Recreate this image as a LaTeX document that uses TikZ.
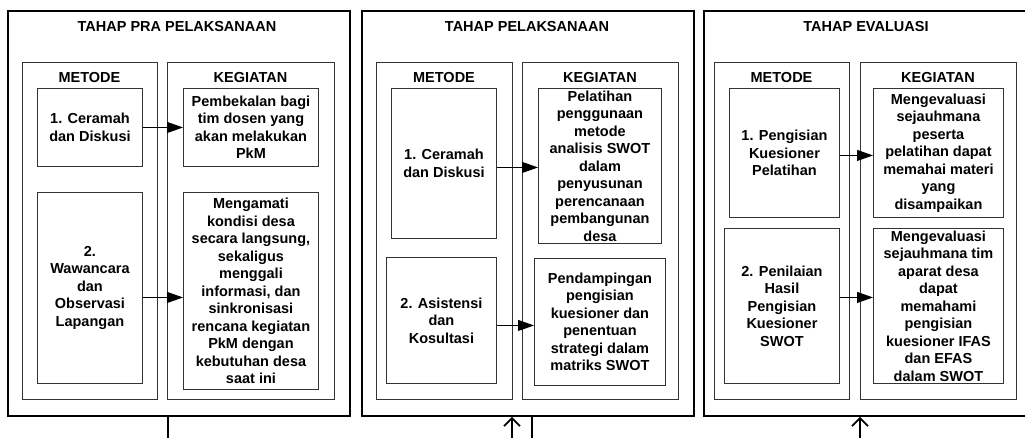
\documentclass[tikz,border=0pt]{standalone}
\usepackage{fontspec}
\setmainfont{Liberation Sans}
\usetikzlibrary{arrows.meta}
\begin{document}
\begin{tikzpicture}[x=1pt, y=-1pt, font=\bfseries\fontsize{14.5}{17.5}\selectfont,
  panel/.style={draw, line width=1.8pt, anchor=north west, inner sep=0pt},
  kolom/.style={draw=black!80, line width=0.9pt, anchor=north west, inner sep=0pt},
  kotak/.style={draw=black!80, line width=0.9pt, anchor=north west, inner sep=0pt, align=center},
  panah/.style={-{Triangle[length=16pt,width=11pt]}, line width=1pt},
  naik/.style={-{Straight Barb[length=8pt,width=16pt]}, line width=1.8pt},
  garis/.style={line width=1.8pt}]
  \clip (0,0) rectangle (1025,437);
  % tahap pra pelaksanaan
  \node[panel, minimum width=342pt, minimum height=405pt] (p1) at (7,10) {};
  \node (j1) at (177,27) {TAHAP PRA PELAKSANAAN};
  \node[kolom, minimum width=135pt, minimum height=337pt] (mt1) at (22,62) {};
  \node[kolom, minimum width=167pt, minimum height=337pt] (kg1) at (167,62) {};
  \node (lm1) at (89.5,78) {METODE};
  \node (lk1) at (250.5,78) {KEGIATAN};
  \node[kotak, minimum width=105pt, minimum height=78pt] (m11) at (37,88) {1. Ceramah\\dan Diskusi};
  \node[kotak, minimum width=135pt, minimum height=78pt] (a11) at (183,88) {Pembekalan bagi\\tim dosen yang\\akan melakukan\\PkM};
  \node[kotak, minimum width=105pt, minimum height=191pt] (m12) at (37,192) {2.\\Wawancara\\dan\\Observasi\\Lapangan};
  \node[kotak, minimum width=135pt, minimum height=197pt] (a12) at (183,192) {Mengamati\\kondisi desa\\secara langsung,\\sekaligus\\menggali\\informasi, dan\\sinkronisasi\\rencana kegiatan\\PkM dengan\\kebutuhan desa\\saat ini};
  \draw[panah] (m11.east) -- (m11.east -| a11.west);
  \draw[panah] ([yshift=-9.5pt]m12.east) -- ([yshift=-9.5pt]m12.east -| a12.west);
  % tahap pelaksanaan
  \node[panel, minimum width=332pt, minimum height=405pt] (p2) at (361,10) {};
  \node (j2) at (527,27) {TAHAP PELAKSANAAN};
  \node[kolom, minimum width=136pt, minimum height=337pt] (mt2) at (376,62) {};
  \node[kolom, minimum width=156pt, minimum height=337pt] (kg2) at (522,62) {};
  \node (lm2) at (444,78) {METODE};
  \node (lk2) at (600,78) {KEGIATAN};
  \node[kotak, minimum width=105pt, minimum height=150pt] (m21) at (391,88) {1. Ceramah\\dan Diskusi};
  \node[kotak, minimum width=123pt, minimum height=155pt] (a21) at (538,88) {Pelatihan\\penggunaan\\metode\\analisis SWOT\\dalam\\penyusunan\\perencanaan\\pembangunan\\desa};
  \node[kotak, minimum width=110pt, minimum height=126pt] (m22) at (386,257) {2. Asistensi\\dan\\Kosultasi};
  \node[kotak, minimum width=131pt, minimum height=127pt] (a22) at (534,258) {Pendampingan\\pengisian\\kuesioner dan\\penentuan\\strategi dalam\\matriks SWOT};
  \draw[panah] ([yshift=-4pt]m21.east) -- ([yshift=-4pt]m21.east -| a21.west);
  \draw[panah] ([yshift=-5pt]m22.east) -- ([yshift=-5pt]m22.east -| a22.west);
  % tahap evaluasi
  \node[panel, minimum width=340pt, minimum height=405pt] (p3) at (703,10) {};
  \node (j3) at (866,27) {TAHAP EVALUASI};
  \node[kolom, minimum width=135pt, minimum height=337pt] (mt3) at (714,62) {};
  \node[kolom, minimum width=156pt, minimum height=337pt] (kg3) at (860,62) {};
  \node (lm3) at (781.5,78) {METODE};
  \node (lk3) at (938,78) {KEGIATAN};
  \node[kotak, minimum width=110pt, minimum height=129pt] (m31) at (729,88) {1. Pengisian\\Kuesioner\\Pelatihan};
  \node[kotak, minimum width=130pt, minimum height=129pt] (a31) at (873,88) {Mengevaluasi\\sejauhmana\\peserta\\pelatihan dapat\\memahai materi\\yang\\disampaikan};
  \node[kotak, minimum width=115pt, minimum height=155pt] (m32) at (724,228) {2. Penilaian\\Hasil\\Pengisian\\Kuesioner\\SWOT};
  \node[kotak, minimum width=130pt, minimum height=155pt] (a32) at (873,228) {Mengevaluasi\\sejauhmana tim\\aparat desa\\dapat\\memahami\\pengisian\\kuesioner IFAS\\dan EFAS\\dalam SWOT};
  \draw[panah] ([yshift=-2.5pt]m31.east) -- ([yshift=-2.5pt]m31.east -| a31.west);
  \draw[panah] ([yshift=8.5pt]m32.east) -- ([yshift=8.5pt]m32.east -| a32.west);
  % garis penghubung antar tahap
  \coordinate (k1) at (168,440);
  \coordinate (k2) at (512,440);
  \coordinate (k3) at (532,440);
  \coordinate (k4) at (860,440);
  \draw[garis] (k1 |- p1.south) -- (k1);
  \draw[naik] (k2) -- (k2 |- p2.south);
  \draw[garis] (k3 |- p2.south) -- (k3);
  \draw[naik] (k4) -- (k4 |- p3.south);
\end{tikzpicture}
\end{document}
